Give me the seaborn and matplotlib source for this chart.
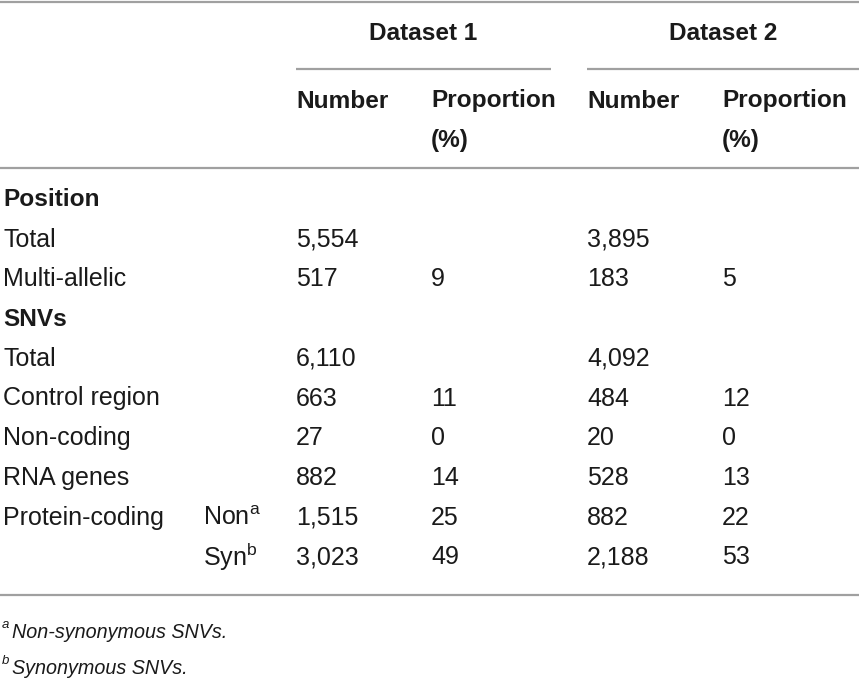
import matplotlib
matplotlib.use("Agg")
import matplotlib.pyplot as plt
import seaborn as sns

# ---------------- DATA ----------------
row_labels = ["Position", "Total", "Multi-allelic", "SNVs", "Total",
              "Control region", "Non-coding", "RNA genes", "Protein-coding", ""]
section_rows = ["Position", "SNVs"]
sub_labels = ["", "", "", "", "", "", "", "", "Non", "Syn"]
sub_marks = ["", "", "", "", "", "", "", "", "a", "b"]
d1_number = ["", "5,554", "517", "", "6,110", "663", "27", "882", "1,515", "3,023"]
d1_prop = ["", "", "9", "", "", "11", "0", "14", "25", "49"]
d2_number = ["", "3,895", "183", "", "4,092", "484", "20", "528", "882", "2,188"]
d2_prop = ["", "", "5", "", "", "12", "0", "13", "22", "53"]
groups = ["Dataset 1", "Dataset 2"]
col_heads = [["Number"], ["Proportion", "(%)"]]
footnotes = [("a", "Non-synonymous SNVs."), ("b", "Synonymous SNVs.")]

# ---------------- STYLE ----------------
sns.set_theme(style="white")
plt.rcParams["font.family"] = ["Liberation Sans", "DejaVu Sans"]
plt.rcParams["mathtext.fontset"] = "custom"
plt.rcParams["mathtext.rm"] = "Liberation Sans"

txt = "#1a1a1a"
rule = "#a0a0a0"
head_font = ["Liberation Sans Narrow", "Liberation Sans", "DejaVu Sans"]
fs = 18
hfs = 17.6

fig = plt.figure(figsize=(8.59, 6.80), dpi=100)
ax = fig.add_axes([0, 0, 1, 1])
ax.set_xlim(0, 859)
ax.set_ylim(680, 0)
ax.axis("off")

# column x positions
x_label = 3
x_sub = 203
x_cols = [296, 431, 587, 722]

# ---------------- HEADER ----------------
ax.plot([0, 859], [2, 2], color=rule, lw=1.6, solid_capstyle="butt")
for i, g in enumerate(groups):
    x0 = x_cols[2 * i]
    x1 = 551 if i == 0 else 859
    ax.text((x0 + x1) / 2, 33, g, ha="center", va="center", fontsize=hfs,
            fontweight="bold", family=head_font, color=txt)
    ax.plot([x0, x1], [69, 69], color=rule, lw=1.6, solid_capstyle="butt")
    for j, lines in enumerate(col_heads):
        for k, h in enumerate(lines):
            ax.text(x_cols[2 * i + j], 101 + k * 39, h, ha="left", va="center",
                    fontsize=hfs, fontweight="bold", family=head_font, color=txt)
ax.plot([0, 859], [168, 168], color=rule, lw=1.6, solid_capstyle="butt")

# ---------------- BODY ----------------
y0, step = 200, 39.7
for r, lab in enumerate(row_labels):
    y = y0 + r * step
    if lab in section_rows:
        ax.text(x_label, y, lab, ha="left", va="center", fontsize=hfs,
                fontweight="bold", family=head_font, color=txt)
    elif lab:
        ax.text(x_label, y, lab, ha="left", va="center", fontsize=fs, color=txt)
    if sub_labels[r]:
        ax.text(x_sub, y, sub_labels[r] + r"$^{\mathrm{" + sub_marks[r] + "}}$",
                ha="left", va="center", fontsize=fs, color=txt)
    for x, col in zip(x_cols, [d1_number, d1_prop, d2_number, d2_prop]):
        if col[r]:
            ax.text(x, y, col[r], ha="left", va="center", fontsize=fs, color=txt)

ax.plot([0, 859], [595, 595], color=rule, lw=1.6, solid_capstyle="butt")

# ---------------- FOOTNOTES ----------------
for k, (mark, note) in enumerate(footnotes):
    y = 632 + k * 36
    ax.text(2, y - 7, mark, ha="left", va="center", fontsize=9.5,
            style="italic", color=txt)
    ax.text(12, y, note, ha="left", va="center", fontsize=14.2,
            style="italic", color=txt)

fig.savefig("out.png", dpi=100)
